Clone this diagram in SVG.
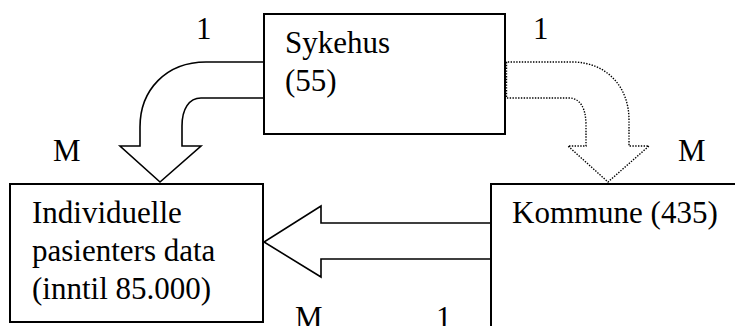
<svg xmlns="http://www.w3.org/2000/svg" width="735" height="326" viewBox="0 0 735 326">
<style>
text{font-family:"Liberation Serif","Times New Roman",serif;font-size:31px;fill:#000}
.box{fill:#fff;stroke:#000;stroke-width:2}
.arr{fill:#fff;stroke:#000;stroke-width:1.6;stroke-linejoin:miter}
.dot{fill:none;stroke:#000;stroke-width:1.4;stroke-dasharray:1.4 1.4}
</style>
<rect width="735" height="326" fill="#fff"/>
<g id="connectors">
<path class="arr" d="M264,62 L206,62 C166,62 140,90 140,127 L140,146 L120,146 L160,182 L201,146 L182,146 L182,126 C182,109 189,98 201,98 L264,98"/>
<path class="dot" d="M505,62 L572,62 C606,62 629,86 629,120 L629,146 L649,146 L608,182 L568,146 L586,146 L586,125 C586,108 580,98 569,98 L505,98 M506.5,62 L506.5,98"/>
<path class="arr" d="M491,223 L321,223 L321,206 L264,242 L321,277 L321,259 L491,259"/>
</g>
<g id="sykehus">
<rect class="box" x="264" y="14" width="241" height="120"/>
<text x="285" y="53">Sykehus</text>
<text x="285" y="91">(55)</text>
</g>
<g id="individuelle">
<rect class="box" x="10" y="184" width="253" height="138"/>
<text x="32" y="223">Individuelle</text>
<text x="32" y="261">pasienters data</text>
<text x="32" y="299">(inntil 85.000)</text>
</g>
<g id="kommune">
<path d="M735,184 H491 V326" fill="none" stroke="#000" stroke-width="2"/>
<text x="512" y="223">Kommune (435)</text>
</g>
<g id="labels">
<text x="196" y="39">1</text>
<text x="533" y="39">1</text>
<text x="53" y="161">M</text>
<text x="678" y="161">M</text>
<text x="295" y="328">M</text>
<text x="436" y="328">1</text>
</g>
</svg>
